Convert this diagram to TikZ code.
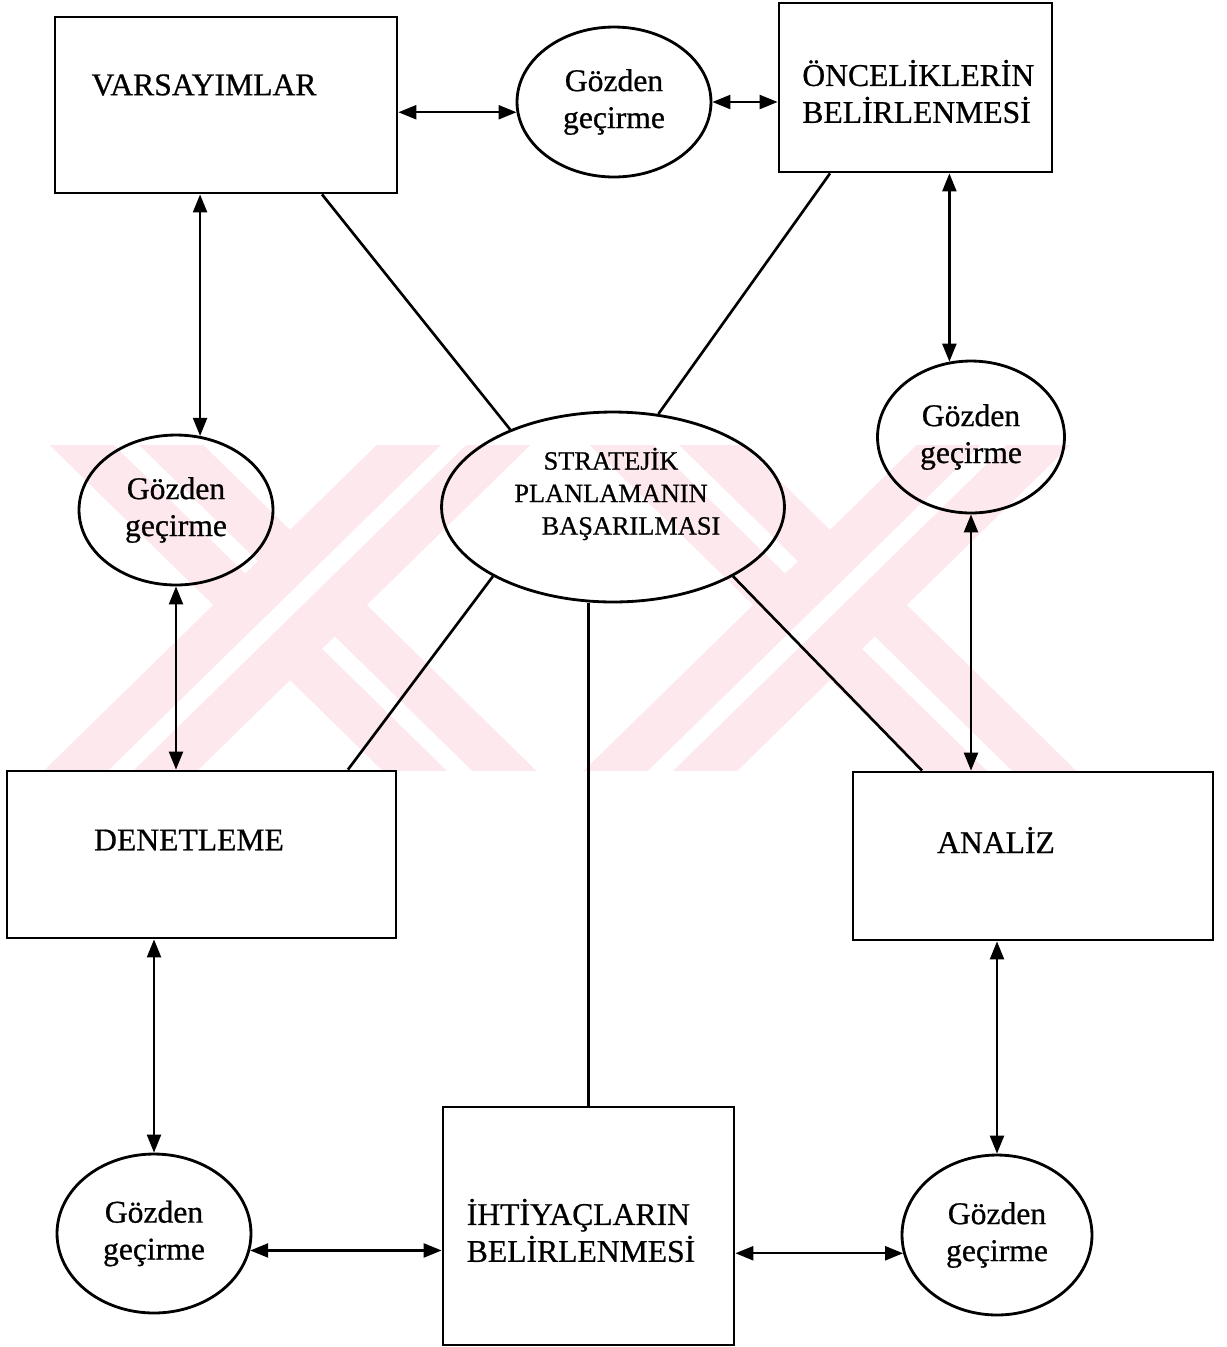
\documentclass[tikz,border=0pt]{standalone}
\usepackage{fontspec}
\setmainfont{Liberation Serif}[FakeBold=0.7]
\usepackage{tikz}
\usetikzlibrary{shapes.geometric,arrows.meta}
\definecolor{WmPink}{RGB}{253,232,237}

\begin{document}
\begin{tikzpicture}[x=0.02cm,y=-0.02cm,
  box/.style={draw,line width=1.6pt,inner sep=0pt},
  oval/.style={draw,ellipse,line width=1.6pt,inner sep=0pt,align=center,
               font=\fontsize{18}{21}\selectfont},
  lbl/.style={font=\fontsize{18}{21}\selectfont,inner sep=0pt},
  dbl/.style={{Triangle[length=0.36cm,width=0.28cm]}-{Triangle[length=0.36cm,width=0.28cm]},
              line width=1.3pt},
  link/.style={line width=1.5pt},
  wm/.style={WmPink,line width=0.9cm,double=white,double distance=0.35cm}]
\useasboundingbox (0,0) rectangle (1227,1347);

% watermark behind everything
\begin{scope}
  \clip (30,445) rectangle (1205,770);
  \foreach \cx in {290,830}{
    \draw[wm] (\cx-230,380) -- (\cx+230,830);
    \draw[wm] (\cx+230,380) -- (\cx-230,830);
  }
\end{scope}

% boxes
\node[box,minimum width=6.84cm,minimum height=3.52cm] (vars) at (226,105) {};
\node[lbl] (varsT) at (204,85) {VARSAYIMLAR};
\node[box,minimum width=5.46cm,minimum height=3.38cm] (onc) at (915.5,87.5) {};
\node[lbl,align=left,anchor=west] (oncT) at (802,91.5) {ÖNCELİKLERİN\\BELİRLENMESİ};
\node[box,minimum width=7.78cm,minimum height=3.34cm] (den) at (201.5,854.5) {};
\node[lbl] (denT) at (189,840) {DENETLEME};
\node[box,minimum width=7.2cm,minimum height=3.36cm] (ana) at (1033,856) {};
\node[lbl] (anaT) at (996,840) {ANALİZ};
\node[box,minimum width=5.82cm,minimum height=4.76cm] (iht) at (588.5,1226) {};
\node[lbl,align=left] (ihtT) at (581,1230.5) {İHTİYAÇLARIN\\BELİRLENMESİ};

% ellipses
\node[oval,minimum width=6.86cm,minimum height=3.8cm] (core) at (613,507) {};
\node[lbl,align=center,font=\fontsize{15}{18.5}\selectfont] (coreT) at (611,494)
  {STRATEJİK\\PLANLAMANIN\\\hspace*{0.8cm}BAŞARILMASI};
\node[oval,minimum width=3.88cm,minimum height=3cm] (topG) at (614,102) {Gözden\\geçirme};
\node[oval,minimum width=3.88cm,minimum height=3cm] (leftG) at (176,510) {Gözden\\geçirme};
\node[oval,minimum width=3.74cm,minimum height=3.04cm] (rightG) at (971,437) {Gözden\\geçirme};
\node[oval,minimum width=3.88cm,minimum height=3.18cm] (blG) at (154,1233.5) {Gözden\\geçirme};
\node[oval,minimum width=3.8cm,minimum height=3.2cm] (brG) at (997,1235) {Gözden\\geçirme};

% two-way arrows
\draw[dbl] (vars.east |- topG.186) -- (topG.186);
\draw[dbl] (topG.east) -- (topG.east -| onc.west);
\draw[dbl] (leftG.72 |- vars.south) -- (leftG.72);
\draw[dbl] (leftG.south) -- (leftG.south |- den.north);
\draw[dbl] (rightG.106 |- onc.south) -- (rightG.106);
\draw[dbl] (rightG.south) -- (rightG.south |- ana.north);
\draw[dbl] (blG.north |- den.south) -- (blG.north);
\draw[dbl] (blG.350) -- (blG.350 -| iht.west);
\draw[dbl] (brG.191 -| iht.east) -- (brG.191);
\draw[dbl] (brG.north |- ana.south) -- (brG.north);

% plain links to the centre
\draw[link] ([xshift=1.92cm]vars.south) -- (core.143);
\draw[link] ([xshift=-1.71cm]onc.south) -- (core.64);
\draw[link] (core.210) -- ([xshift=2.93cm]den.north);
\draw[link] (iht.north |- core.south) -- (iht.north);
\draw[link] (core.330) -- ([xshift=-2.22cm]ana.north);
\end{tikzpicture}
\end{document}
